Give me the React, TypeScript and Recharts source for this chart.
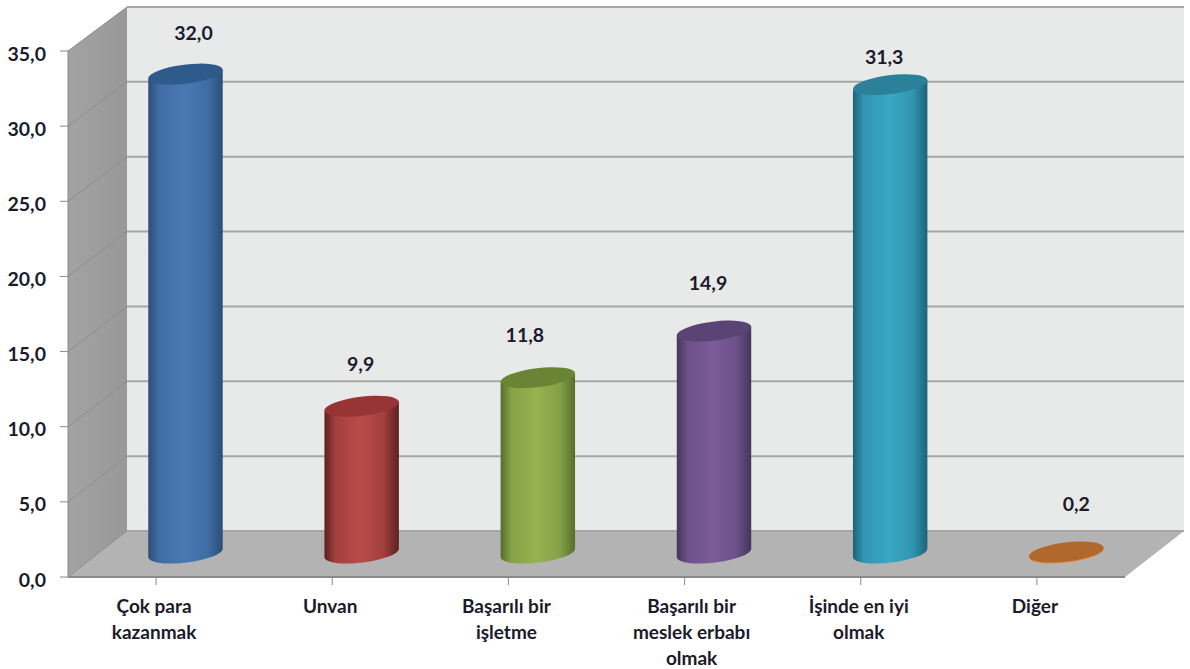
import { BarChart, Bar, XAxis, YAxis, ReferenceArea, LabelList } from "recharts"

const categories = ["Çok para kazanmak", "Unvan", "Başarılı bir işletme", "Başarılı bir meslek erbabı olmak", "İşinde en iyi olmak", "Diğer"]
const categoryLines = [
  ["Çok para", "kazanmak"],
  ["Unvan"],
  ["Başarılı bir", "işletme"],
  ["Başarılı bir", "meslek erbabı", "olmak"],
  ["İşinde en iyi", "olmak"],
  ["Diğer"],
]
const values = [32.0, 9.9, 11.8, 14.9, 31.3, 0.2]
const yTicks = [0, 5, 10, 15, 20, 25, 30, 35]

// edge, middle, light, top ellipse
const palettes = [
  ["#2b4e76", "#3f6ca3", "#4a79b2", "#2f5a8c"],
  ["#5a2220", "#a23f3d", "#b94c4a", "#963533"],
  ["#566e2e", "#84a147", "#95b350", "#6a8435"],
  ["#46355c", "#6c5089", "#7c5c9a", "#5a4476"],
  ["#1d6378", "#3295b0", "#3aa8c4", "#2a8199"],
  ["#c9772f", "#e08a3c", "#e59345", "#b0682c"],
]

// hand placed data labels, relative to the top of each cylinder
const labelShift = [[8, -42], [-1, -43], [-13, -43], [-6, -49], [-6, -28], [10, -48]]

const DEPTH_X = 59
const DEPTH_Y = 46
const PLOT_BOTTOM = 577
const BAR_X = 29
const BAR_Y = 22
const INK = "#1b1b2b"
const FONT = "Lato, sans-serif"

const fmt = (v: number) => v.toFixed(1).replace(".", ",")
const data = categories.map((name, i) => ({ name, value: values[i] }))

// the back wall is a touch shorter than the front edge
const backY = (y: number) => y - DEPTH_Y + (PLOT_BOTTOM - y) / 263

function Walls({ x, y, width, height }: any) {
  const bottom = y + height
  const right = x + width
  const bx = x + DEPTH_X
  const tip = backY(y)
  const floor = backY(bottom)
  return (
    <g>
      <defs>
        <linearGradient id="sideWall" x1="0" y1="0" x2="1" y2="0">
          <stop offset="0" stopColor="#a3a3a3" />
          <stop offset="1" stopColor="#989898" />
        </linearGradient>
      </defs>
      <rect x={bx} y={tip} width={width} height={floor - tip} fill="#e8e9e9" />
      <polygon points={`${x},${y} ${bx},${tip} ${bx},${floor} ${x},${bottom}`} fill="url(#sideWall)" />
      <polygon points={`${x},${bottom} ${bx},${floor} ${right + DEPTH_X},${floor} ${right},${bottom}`} fill="#b3b3b3" />
    </g>
  )
}

function GridLine({ x, y, width }: any) {
  const by = backY(y)
  return (
    <g fill="none">
      <line x1={x} y1={y} x2={x + DEPTH_X} y2={by} stroke="#8d8d8d" strokeWidth={1} />
      <line x1={x + DEPTH_X} y1={by} x2={x + width + DEPTH_X} y2={by} stroke="#a6a6a6" strokeWidth={2} />
    </g>
  )
}

function Cylinder({ x, y, width, height, index }: any) {
  const [edge, mid, light, top] = palettes[index]
  const cx = x + width / 2 + BAR_X
  const rx = width / 2
  const ry = 9.5
  const tilt = -7
  const dx = rx * Math.cos((tilt * Math.PI) / 180)
  const dy = rx * Math.sin((tilt * Math.PI) / 180)
  const topY = y - BAR_Y
  const baseY = y + height - BAR_Y - 2
  const id = `cyl${index}`
  return (
    <g>
      <defs>
        <linearGradient id={id} x1="0" y1="0" x2="1" y2="0">
          <stop offset="0" stopColor={edge} />
          <stop offset="0.14" stopColor={mid} />
          <stop offset="0.48" stopColor={light} />
          <stop offset="0.8" stopColor={mid} />
          <stop offset="1" stopColor={edge} />
        </linearGradient>
      </defs>
      <path
        d={`M${cx - dx},${topY - dy} L${cx - dx},${baseY - dy} A${rx},${ry} ${tilt} 0 0 ${cx + dx},${baseY + dy} L${cx + dx},${topY + dy} Z`}
        fill={`url(#${id})`}
      />
      <ellipse cx={cx} cy={topY} rx={rx} ry={ry} fill={top} transform={`rotate(${tilt} ${cx} ${topY})`} />
    </g>
  )
}

function ValueLabel({ x, y, width, value, index }: any) {
  const [sx, sy] = labelShift[index]
  return (
    <text
      x={x + width / 2 + BAR_X + sx}
      y={y - BAR_Y + sy}
      textAnchor="middle"
      dominantBaseline="central"
      fontFamily={FONT}
      fontWeight={700}
      fontSize={19.5}
      fill={INK}
    >
      {fmt(value)}
    </text>
  )
}

function CategoryTick({ x, y, index }: any) {
  const lines = categoryLines[index]
  const tx = x + (lines.length === 3 ? 7 : -2)
  return (
    <text x={tx} y={y + 26} textAnchor="middle" fontFamily={FONT} fontWeight={700} fontSize={19} fill={INK}>
      {lines.map((t, i) => (
        <tspan key={t} x={tx} dy={i === 0 ? 0 : 26}>
          {t}
        </tspan>
      ))}
    </text>
  )
}

function ValueTick({ x, y, payload }: any) {
  return (
    <text x={x - 12} y={y + 2} textAnchor="end" dominantBaseline="central" fontFamily={FONT} fontWeight={700} fontSize={19.5} fill={INK}>
      {fmt(payload.value)}
    </text>
  )
}

export default function App() {
  return (
    <div style={{ position: "absolute", left: 0, top: 0, width: 1190, height: 669, background: "#fff" }}>
      <BarChart width={1190} height={669} data={data} margin={{ top: 51, right: 65, bottom: 0, left: 0 }}>
        <XAxis
          dataKey="name"
          height={92}
          interval={0}
          stroke="#8a8a8a"
          strokeWidth={2}
          tickSize={8}
          tickLine={{ stroke: "#8a8a8a", strokeWidth: 1 }}
          tick={<CategoryTick />}
        />
        <YAxis
          width={68}
          domain={[0, 35]}
          ticks={yTicks}
          stroke="#8a8a8a"
          tickSize={8}
          tick={<ValueTick />}
        />
        <ReferenceArea y1={0} y2={35} ifOverflow="visible" shape={<Walls />} />
        {yTicks.map((v) => (
          <ReferenceArea key={v} y1={v} y2={v} ifOverflow="visible" shape={<GridLine />} />
        ))}
        <Bar dataKey="value" barSize={75} isAnimationActive={false} shape={<Cylinder />}>
          <LabelList dataKey="value" content={<ValueLabel />} />
        </Bar>
      </BarChart>
    </div>
  )
}
